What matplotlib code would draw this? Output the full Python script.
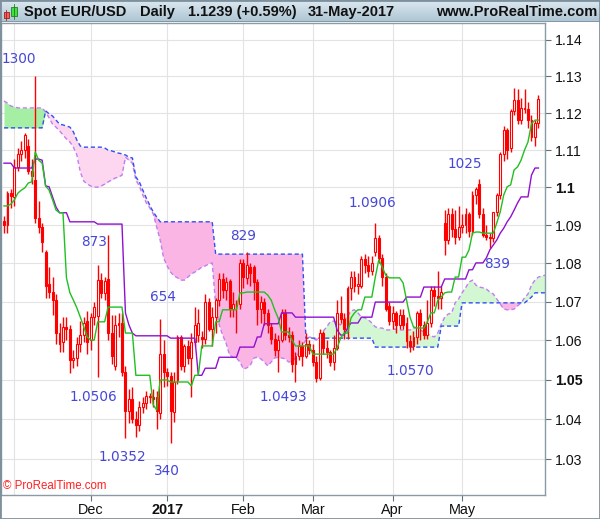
import numpy as np
import pandas as pd
import matplotlib
matplotlib.use("Agg")
import matplotlib.pyplot as plt
from matplotlib.ticker import NullLocator
from matplotlib.patches import Rectangle

plt.rcParams["font.family"] = ["Liberation Sans", "DejaVu Sans"]

# daily bars, 27-Oct-2016 .. 31-May-2017
dates = pd.bdate_range("2016-10-27", "2017-05-31")

opens = [
    1.0912, 1.0900, 1.0985,
    # Nov
    1.0975, 1.1055, 1.1090, 1.1100, 1.1110, 1.1045, 1.1020, 1.0920, 1.0895, 1.0830, 1.0745,
    1.0725, 1.0705, 1.0620, 1.0595, 1.0635, 1.0630, 1.0550, 1.0555, 1.0590, 1.0615, 1.0650,
    # Dec
    1.0600, 1.0660, 1.0662, 1.0757, 1.0722, 1.0760, 1.0620, 1.0535, 1.0640, 1.0645, 1.0520,
    1.0420, 1.0450, 1.0400, 1.0385, 1.0430, 1.0440, 1.0458, 1.0455, 1.0455, 1.0415, 1.0565,
    # Jan
    1.0520, 1.0508, 1.0418, 1.0500, 1.0608, 1.0535, 1.0585, 1.0555, 1.0595, 1.0615, 1.0610,
    1.0605, 1.0700, 1.0630, 1.0660, 1.0705, 1.0760, 1.0730, 1.0755, 1.0680, 1.0695, 1.0695,
    # Feb
    1.0800, 1.0762, 1.0790, 1.0790, 1.0750, 1.0680, 1.0700, 1.0670, 1.0635, 1.0605, 1.0575,
    1.0600, 1.0670, 1.0615, 1.0615, 1.0540, 1.0560, 1.0585, 1.0560, 1.0590,
    # Mar
    1.0575, 1.0545, 1.0505, 1.0620, 1.0580, 1.0570, 1.0545, 1.0580, 1.0670, 1.0655, 1.0630,
    1.0735, 1.0765, 1.0740, 1.0740, 1.0810, 1.0795, 1.0780, 1.0830, 1.0865, 1.0815, 1.0765,
    1.0690,
    # Apr
    1.0650, 1.0670, 1.0640, 1.0665, 1.0645, 1.0598, 1.0585, 1.0610, 1.0670, 1.0640, 1.0615,
    1.0645, 1.0730, 1.0715, 1.0710, 1.0905, 1.0860, 1.0930, 1.0890, 1.0870,
    # May
    1.0895, 1.0900, 1.0930, 1.0885, 1.0980, 1.1010, 1.0930, 1.0875, 1.0870, 1.0865, 1.0935,
    1.0980, 1.1090, 1.1155, 1.1105, 1.1205, 1.1235, 1.1180, 1.1215, 1.1210, 1.1180, 1.1135,
    1.1173,
]
highs = [
    1.0925, 1.0990, 1.0995,
    1.1075, 1.1105, 1.1125, 1.1145, 1.1130, 1.1075, 1.1300, 1.0965, 1.0905, 1.0835, 1.0790,
    1.0765, 1.0720, 1.0645, 1.0660, 1.0660, 1.0640, 1.0575, 1.0610, 1.0650, 1.0660, 1.0675,
    1.0670, 1.0700, 1.0795, 1.0775, 1.0765, 1.0873, 1.0665, 1.0665, 1.0670, 1.0670, 1.0535,
    1.0475, 1.0480, 1.0420, 1.0445, 1.0455, 1.0470, 1.0465, 1.0475, 1.0470, 1.0655, 1.0600,
    1.0530, 1.0520, 1.0520, 1.0615, 1.0615, 1.0590, 1.0600, 1.0620, 1.0685, 1.0680, 1.0625,
    1.0720, 1.0710, 1.0685, 1.0710, 1.0775, 1.0775, 1.0765, 1.0760, 1.0725, 1.0705, 1.0810,
    1.0810, 1.0829, 1.0800, 1.0795, 1.0760, 1.0715, 1.0710, 1.0680, 1.0645, 1.0620, 1.0615,
    1.0680, 1.0680, 1.0635, 1.0625, 1.0570, 1.0600, 1.0595, 1.0620, 1.0600,
    1.0590, 1.0560, 1.0630, 1.0625, 1.0600, 1.0575, 1.0615, 1.0705, 1.0715, 1.0670, 1.0740,
    1.0780, 1.0780, 1.0775, 1.0820, 1.0825, 1.0820, 1.0820, 1.0906, 1.0875, 1.0825, 1.0775,
    1.0700,
    1.0690, 1.0675, 1.0680, 1.0680, 1.0660, 1.0615, 1.0625, 1.0675, 1.0680, 1.0650, 1.0705,
    1.0740, 1.0740, 1.0780, 1.0740, 1.0940, 1.0945, 1.0945, 1.0940, 1.0950,
    1.0930, 1.0945, 1.0935, 1.0990, 1.1000, 1.1023, 1.0945, 1.0900, 1.0880, 1.0935, 1.0985,
    1.1095, 1.1165, 1.1160, 1.1210, 1.1268, 1.1265, 1.1240, 1.1265, 1.1230, 1.1195, 1.1180,
    1.1250,
]
lows = [
    1.0880, 1.0880, 1.0945,
    1.0950, 1.1045, 1.1070, 1.1080, 1.1035, 1.1010, 1.0905, 1.0880, 1.0830, 1.0710, 1.0710,
    1.0665, 1.0590, 1.0570, 1.0570, 1.0600, 1.0518, 1.0530, 1.0535, 1.0570, 1.0595, 1.0565,
    1.0575, 1.0640, 1.0506, 1.0710, 1.0705, 1.0600, 1.0540, 1.0525, 1.0610, 1.0510, 1.0352,
    1.0390, 1.0390, 1.0355, 1.0370, 1.0415, 1.0425, 1.0440, 1.0430, 1.0375, 1.0400, 1.0480,
    1.0485, 1.0340, 1.0393, 1.0490, 1.0525, 1.0520, 1.0540, 1.0455, 1.0585, 1.0595, 1.0580,
    1.0590, 1.0625, 1.0585, 1.0620, 1.0690, 1.0710, 1.0705, 1.0660, 1.0660, 1.0620, 1.0680,
    1.0735, 1.0745, 1.0740, 1.0705, 1.0640, 1.0645, 1.0640, 1.0620, 1.0590, 1.0560, 1.0520,
    1.0595, 1.0600, 1.0595, 1.0520, 1.0493, 1.0550, 1.0535, 1.0555, 1.0565,
    1.0535, 1.0495, 1.0500, 1.0565, 1.0555, 1.0535, 1.0525, 1.0575, 1.0645, 1.0605, 1.0605,
    1.0705, 1.0725, 1.0720, 1.0735, 1.0775, 1.0765, 1.0770, 1.0820, 1.0800, 1.0740, 1.0675,
    1.0640,
    1.0630, 1.0620, 1.0630, 1.0630, 1.0580, 1.0570, 1.0575, 1.0590, 1.0600, 1.0605, 1.0605,
    1.0635, 1.0690, 1.0680, 1.0680, 1.0822, 1.0850, 1.0870, 1.0850, 1.0860,
    1.0880, 1.0880, 1.0870, 1.0875, 1.0955, 1.0920, 1.0870, 1.0860, 1.0839, 1.0855, 1.0925,
    1.0970, 1.1070, 1.1075, 1.1095, 1.1195, 1.1170, 1.1170, 1.1200, 1.1160, 1.1125, 1.1110,
    1.1160,
]
closes = [
    1.0900, 1.0985, 1.0978,
    1.1055, 1.1090, 1.1100, 1.1140, 1.1045, 1.1030, 1.0920, 1.0895, 1.0855, 1.0740, 1.0725,
    1.0705, 1.0620, 1.0590, 1.0635, 1.0630, 1.0550, 1.0555, 1.0590, 1.0615, 1.0645, 1.0595,
    1.0660, 1.0685, 1.0757, 1.0722, 1.0755, 1.0620, 1.0560, 1.0640, 1.0645, 1.0520, 1.0420,
    1.0450, 1.0400, 1.0385, 1.0430, 1.0440, 1.0458, 1.0455, 1.0450, 1.0420, 1.0565, 1.0520,
    1.0508, 1.0420, 1.0495, 1.0608, 1.0535, 1.0585, 1.0555, 1.0595, 1.0640, 1.0645, 1.0605,
    1.0700, 1.0630, 1.0660, 1.0705, 1.0760, 1.0730, 1.0750, 1.0680, 1.0695, 1.0690, 1.0800,
    1.0765, 1.0795, 1.0775, 1.0750, 1.0680, 1.0700, 1.0670, 1.0640, 1.0605, 1.0575, 1.0600,
    1.0670, 1.0615, 1.0610, 1.0540, 1.0560, 1.0585, 1.0560, 1.0590, 1.0575,
    1.0545, 1.0505, 1.0620, 1.0580, 1.0570, 1.0545, 1.0580, 1.0670, 1.0655, 1.0630, 1.0735,
    1.0765, 1.0740, 1.0745, 1.0810, 1.0795, 1.0780, 1.0800, 1.0865, 1.0815, 1.0765, 1.0680,
    1.0650,
    1.0670, 1.0640, 1.0665, 1.0640, 1.0598, 1.0585, 1.0610, 1.0670, 1.0640, 1.0615, 1.0645,
    1.0730, 1.0715, 1.0710, 1.0725, 1.0860, 1.0930, 1.0890, 1.0870, 1.0895,
    1.0900, 1.0930, 1.0885, 1.0980, 1.0995, 1.0930, 1.0875, 1.0870, 1.0865, 1.0935, 1.0980,
    1.1090, 1.1155, 1.1100, 1.1205, 1.1235, 1.1180, 1.1215, 1.1210, 1.1180, 1.1135, 1.1173,
    1.1239,
]

# conversion line (green) and base line (purple)
tenkan = [
    1.0951, 1.0951, 1.0956,
    1.0967, 1.0985, 1.0993, 1.0999, 1.1012, 1.1015, 1.1095, 1.1073, 1.1065, 1.1004, 1.0993,
    1.0967, 1.0940, 1.0933, 1.0933, 1.0762, 1.0723, 1.0704, 1.0684, 1.0660, 1.0635, 1.0609,
    1.0601, 1.0601, 1.0648, 1.0648, 1.0648, 1.0686, 1.0686, 1.0686, 1.0686, 1.0686, 1.0619,
    1.0619, 1.0619, 1.0511, 1.0511, 1.0511, 1.0511, 1.0511, 1.0436, 1.0423, 1.0499, 1.0499,
    1.0499, 1.0494, 1.0494, 1.0494, 1.0494, 1.0494, 1.0494, 1.0484, 1.0511, 1.0511, 1.0586,
    1.0586, 1.0586, 1.0586, 1.0648, 1.0648, 1.0679, 1.0679, 1.0679, 1.0679, 1.0679, 1.0723,
    1.0723, 1.0725, 1.0725, 1.0725, 1.0725, 1.0725, 1.0725, 1.0717, 1.0704, 1.0679, 1.0658,
    1.0622, 1.0622, 1.0622, 1.0601, 1.0586, 1.0586, 1.0586, 1.0586, 1.0586,
    1.0565, 1.0565, 1.0565, 1.0565, 1.0565, 1.0565, 1.0565, 1.0581, 1.0606, 1.0619, 1.0619,
    1.0658, 1.0671, 1.0679, 1.0679, 1.0712, 1.0712, 1.0712, 1.0764, 1.0809, 1.0790, 1.0769,
    1.0762,
    1.0762, 1.0762, 1.0762, 1.0749, 1.0704, 1.0660, 1.0635, 1.0632, 1.0632, 1.0632, 1.0648,
    1.0671, 1.0671, 1.0704, 1.0712, 1.0723, 1.0725, 1.0725, 1.0764, 1.0764,
    1.0816, 1.0816, 1.0835, 1.0879, 1.0882, 1.0882, 1.0879, 1.0879, 1.0879, 1.0879, 1.0906,
    1.0935, 1.0980, 1.1002, 1.1007, 1.1047, 1.1055, 1.1073, 1.1100, 1.1122, 1.1171, 1.1181,
    1.1181,
]
kijun = [
    1.1065, 1.1065, 1.1065,
    1.1052, 1.1052, 1.1052, 1.1052, 1.1052, 1.1052, 1.1076, 1.1076, 1.1073, 1.1004, 1.1002,
    1.0975, 1.0948, 1.0933, 1.0933, 1.0933, 1.0909, 1.0909, 1.0909, 1.0909, 1.0909, 1.0909,
    1.0909, 1.0909, 1.0903, 1.0903, 1.0903, 1.0903, 1.0903, 1.0903, 1.0903, 1.0903, 1.0671,
    1.0640, 1.0619, 1.0612, 1.0612, 1.0612, 1.0612, 1.0612, 1.0612, 1.0612, 1.0612, 1.0612,
    1.0612, 1.0606, 1.0606, 1.0606, 1.0606, 1.0606, 1.0606, 1.0606, 1.0606, 1.0511, 1.0511,
    1.0529, 1.0529, 1.0529, 1.0529, 1.0557, 1.0557, 1.0557, 1.0557, 1.0557, 1.0557, 1.0583,
    1.0583, 1.0583, 1.0583, 1.0583, 1.0609, 1.0609, 1.0643, 1.0643, 1.0643, 1.0643, 1.0643,
    1.0671, 1.0671, 1.0671, 1.0671, 1.0660, 1.0660, 1.0660, 1.0660, 1.0660,
    1.0660, 1.0660, 1.0660, 1.0660, 1.0660, 1.0660, 1.0660, 1.0627, 1.0614, 1.0614, 1.0632,
    1.0645, 1.0645, 1.0645, 1.0660, 1.0660, 1.0660, 1.0660, 1.0699, 1.0699, 1.0699, 1.0699,
    1.0699,
    1.0699, 1.0699, 1.0699, 1.0699, 1.0712, 1.0712, 1.0712, 1.0712, 1.0712, 1.0738, 1.0738,
    1.0738, 1.0738, 1.0738, 1.0738, 1.0759, 1.0759, 1.0759, 1.0759, 1.0759,
    1.0759, 1.0759, 1.0783, 1.0783, 1.0801, 1.0801, 1.0801, 1.0814, 1.0835, 1.0848, 1.0861,
    1.0879, 1.0892, 1.0909, 1.0922, 1.0940, 1.0959, 1.0975, 1.0975, 1.0975, 1.1033, 1.1052,
    1.1052,
]

# leading spans A (violet) and B (blue), already shifted 26 bars ahead
span_a = [
    1.1233, 1.1227, 1.1219,
    1.1217, 1.1214, 1.1214, 1.1214, 1.1214, 1.1214, 1.1214, 1.1214, 1.1214, 1.1203, 1.1187,
    1.1170, 1.1162, 1.1152, 1.1141, 1.1130, 1.1122, 1.1108, 1.1087, 1.1041, 1.1017, 1.1009,
    1.1004, 1.1001, 1.1001, 1.1004, 1.1009, 1.1015, 1.1020, 1.1025, 1.1028, 1.1033, 1.1081,
    1.1073, 1.1065, 1.1020, 1.1004, 1.0980, 1.0959, 1.0946, 1.0930, 1.0895, 1.0861, 1.0814,
    1.0793, 1.0777, 1.0767, 1.0762, 1.0756, 1.0756, 1.0764, 1.0772, 1.0777, 1.0783, 1.0790,
    1.0793, 1.0798, 1.0801, 1.0691, 1.0640, 1.0614, 1.0593, 1.0563, 1.0557, 1.0555, 1.0545,
    1.0527, 1.0530, 1.0537, 1.0555, 1.0557, 1.0553, 1.0545, 1.0535, 1.0545, 1.0555, 1.0557,
    1.0555, 1.0553, 1.0545, 1.0545, 1.0555, 1.0570, 1.0588, 1.0601, 1.0609,
    1.0606, 1.0601, 1.0609, 1.0624, 1.0635, 1.0648, 1.0650, 1.0645, 1.0640, 1.0653, 1.0663,
    1.0676, 1.0679, 1.0671, 1.0660, 1.0658, 1.0653, 1.0645, 1.0635, 1.0632, 1.0632, 1.0627,
    1.0627,
    1.0629, 1.0629, 1.0627, 1.0627, 1.0627, 1.0627, 1.0632, 1.0632, 1.0627, 1.0622, 1.0617,
    1.0612, 1.0609, 1.0619, 1.0642, 1.0660, 1.0668, 1.0671, 1.0697, 1.0707,
    1.0723, 1.0736, 1.0751, 1.0756, 1.0743, 1.0738, 1.0736, 1.0733, 1.0725, 1.0720, 1.0707,
    1.0694, 1.0681, 1.0679, 1.0679, 1.0681, 1.0689, 1.0697, 1.0710, 1.0720, 1.0743, 1.0756,
    1.0764, 1.0767, 1.0769,
]
span_b = [
    1.1160, 1.1160, 1.1160,
    1.1160, 1.1160, 1.1160, 1.1160, 1.1160, 1.1160, 1.1160, 1.1160, 1.1160, 1.1206, 1.1198,
    1.1192, 1.1181, 1.1170, 1.1168, 1.1165, 1.1162, 1.1149, 1.1127, 1.1111, 1.1108, 1.1108,
    1.1108, 1.1108, 1.1108, 1.1108, 1.1106, 1.1100, 1.1098, 1.1095, 1.1092, 1.1090, 1.1087,
    1.1081, 1.1079, 1.1028, 1.1015, 1.0993, 1.0972, 1.0953, 1.0935, 1.0922, 1.0909, 1.0909,
    1.0909, 1.0909, 1.0909, 1.0909, 1.0909, 1.0909, 1.0909, 1.0909, 1.0909, 1.0909, 1.0909,
    1.0909, 1.0909, 1.0909, 1.0824, 1.0824, 1.0824, 1.0824, 1.0824, 1.0824, 1.0824, 1.0824,
    1.0824, 1.0824, 1.0824, 1.0824, 1.0824, 1.0824, 1.0824, 1.0824, 1.0824, 1.0824, 1.0824,
    1.0824, 1.0824, 1.0824, 1.0824, 1.0824, 1.0824, 1.0824, 1.0606, 1.0606,
    1.0606, 1.0606, 1.0606, 1.0606, 1.0606, 1.0606, 1.0606, 1.0606, 1.0606, 1.0606, 1.0606,
    1.0606, 1.0606, 1.0606, 1.0606, 1.0606, 1.0606, 1.0606, 1.0583, 1.0583, 1.0583, 1.0583,
    1.0583,
    1.0583, 1.0583, 1.0583, 1.0583, 1.0583, 1.0583, 1.0583, 1.0583, 1.0583, 1.0583, 1.0583,
    1.0583, 1.0583, 1.0583, 1.0637, 1.0637, 1.0637, 1.0637, 1.0637, 1.0637,
    1.0697, 1.0697, 1.0697, 1.0697, 1.0697, 1.0697, 1.0697, 1.0697, 1.0697, 1.0697, 1.0697,
    1.0697, 1.0697, 1.0697, 1.0697, 1.0697, 1.0697, 1.0697, 1.0697, 1.0704, 1.0712, 1.0723,
    1.0723, 1.0723, 1.0723,
]

# swing labels printed on the chart
swing_labels = ["1300", "873", "654", "1.0506", "1.0352", "340",
                "829", "1.0493", "1.0906", "1.0570", "1025", "839"]
swing_bars = [-0.8, 25.9, 45.8, 25.9, 34.0, 47.0, 68.9, 80.4, 106.1, 117.0, 132.9, 142.1]
swing_prices = [1.1348, 1.0856, 1.0712, 1.0456, 1.0305, 1.0270,
                1.0872, 1.0456, 1.0959, 1.0522, 1.1063, 1.0798]

y_ticks = [1.03, 1.04, 1.05, 1.06, 1.07, 1.08, 1.09, 1.10, 1.11, 1.12, 1.13, 1.14]
y_labels = ["1.03", "1.04", "1.05", "1.06", "1.07", "1.08", "1.09", "1.1",
            "1.11", "1.12", "1.13", "1.14"]

o = np.array(opens)
h = np.array(highs)
l = np.array(lows)
c = np.array(closes)
x = np.arange(len(dates))
xc = np.arange(len(span_a))
sa = np.array(span_a)
sb = np.array(span_b)

W, H = 600, 519
fig = plt.figure(figsize=(W / 100, H / 100), dpi=100)
fig.patch.set_facecolor("white")

ax = fig.add_axes([1 / W, (H - 495) / H, 544 / W, 472 / H])
ax.set_yscale("log")
ax.set_xlim(-0.86, 155.9)
ax.set_ylim(1.02107, 1.14470)

# cloud
ax.fill_between(xc, sa, sb, where=(sa >= sb) & (xc <= 12), interpolate=True,
                color="#a4efa4", lw=0, zorder=1)
ax.fill_between(xc, sa, sb, where=(sa >= sb) & (xc >= 12), interpolate=True,
                color="#d3f6d3", lw=0, zorder=1)
ax.fill_between(xc, sa, sb, where=(sa <= sb) & (xc <= 44), interpolate=True,
                color="#fdd6ef", lw=0, zorder=1)
ax.fill_between(xc, sa, sb, where=(sa <= sb) & (xc >= 44), interpolate=True,
                color="#fbb5e4", lw=0, zorder=1)
ax.plot(xc, sa, color="#c07ef0", lw=1, ls=(0, (3, 2)), zorder=2)
ax.plot(xc, sb, color="#3050f0", lw=1, ls=(0, (3, 2)), zorder=2)

# candles
up = c >= o
body = np.maximum(np.abs(c - o), 0.00012)
ax.vlines(x, l, h, color="#ff0000", lw=1, zorder=3)
ax.bar(x[up], body[up], bottom=o[up], width=0.55, facecolor="white",
       edgecolor="#ff0000", lw=0.8, zorder=4)
ax.bar(x[~up], body[~up], bottom=c[~up], width=0.55, facecolor="#ff0000",
       edgecolor="#ff0000", lw=0.8, zorder=4)

ax.plot(x, kijun, color="#9010d0", lw=1, zorder=5)
ax.plot(x, tenkan, color="#20c020", lw=1, zorder=5)

for txt, bx, py in zip(swing_labels, swing_bars, swing_prices):
    ax.text(bx, py, txt, color="#4646d8", fontsize=9.8, family="DejaVu Sans",
            ha="left" if txt == "1300" else "center", va="center", zorder=6)

# axes, grid, ticks
month_starts = [np.where((dates.year == yy) & (dates.month == mm))[0][0]
                for yy, mm in [(2016, 12), (2017, 1), (2017, 2), (2017, 3), (2017, 4), (2017, 5)]]
nov_start = np.where((dates.year == 2016) & (dates.month == 11))[0][0]
x_labels = ["Dec", "2017", "Feb", "Mar", "Apr", "May"]

ax.yaxis.tick_right()
ax.set_yticks(y_ticks)
ax.yaxis.set_minor_locator(NullLocator())
ylbls = ax.set_yticklabels(y_labels)
for t in ylbls:
    if t.get_text() in ("1.1", "1.05"):
        t.set_fontweight("bold")
ax.set_xticks(month_starts)
xlbls = ax.set_xticklabels(x_labels)
for t in xlbls:
    if t.get_text() == "2017":
        t.set_fontweight("bold")
ax.tick_params(axis="y", length=4, width=0.8, color="#60707c", labelsize=10.2,
               labelcolor="#111111", pad=3)
ax.tick_params(axis="x", length=4, width=0.8, color="#60707c", labelsize=10.4,
               labelcolor="#111111", pad=2)
ax.grid(True, color="#e3e3e3", lw=0.8, zorder=0)
ax.axvline(nov_start, color="#e3e3e3", lw=0.8, zorder=0)
ax.set_axisbelow(True)
for side in ["left", "right", "bottom", "top"]:
    ax.spines[side].set_color("#8a9ba6")
    ax.spines[side].set_linewidth(1)

ax.text(0.004, 0.006, "\u00a9 ProRealTime.com", transform=ax.transAxes,
        color="#ff2020", fontsize=8.3, va="bottom", ha="left", zorder=7)

# header bar
hax = fig.add_axes([0, (H - 22) / H, 1, 22 / H])
grad = np.linspace(0, 1, 22)[:, None]
top = np.array([0.86, 0.91, 0.94])
bot = np.array([0.68, 0.77, 0.83])
img = top + (bot - top) * grad[:, :, None]
hax.imshow(np.repeat(img, 2, axis=1), extent=[0, W, 22, 0], aspect="auto")
hax.set_xlim(0, W)
hax.set_ylim(22, 0)
hax.axis("off")
hax.axhline(21.5, color="#7d909c", lw=1.2)
hax.add_patch(Rectangle((3.5, 11.5), 5.5, 6.5, facecolor="#f06060", edgecolor="#a02020", lw=0.6))
hax.plot([6.2, 6.2], [10, 19.5], color="#a02020", lw=0.6)
hax.add_patch(Rectangle((11, 6.5), 5.5, 9.5, facecolor="#40e040", edgecolor="#208020", lw=0.6))
hax.plot([13.7, 13.7], [3.5, 19], color="#208020", lw=0.6)
hdr = dict(fontsize=10.5, fontweight="bold", color="#111111", va="center")
hax.text(24, 12, "Spot EUR/USD", **hdr)
hax.text(140, 12, "Daily", **hdr)
hax.text(187.5, 12, "1.1239 (+0.59%)", **hdr)
hax.text(308, 12, "31-May-2017", **hdr)
hax.text(597, 12, "www.ProRealTime.com", ha="right", **hdr)

fig.patches.append(Rectangle((0, 0), 1, 1, transform=fig.transFigure, fill=False,
                             edgecolor="#7d909c", lw=2))

fig.savefig("out.png", dpi=100)
